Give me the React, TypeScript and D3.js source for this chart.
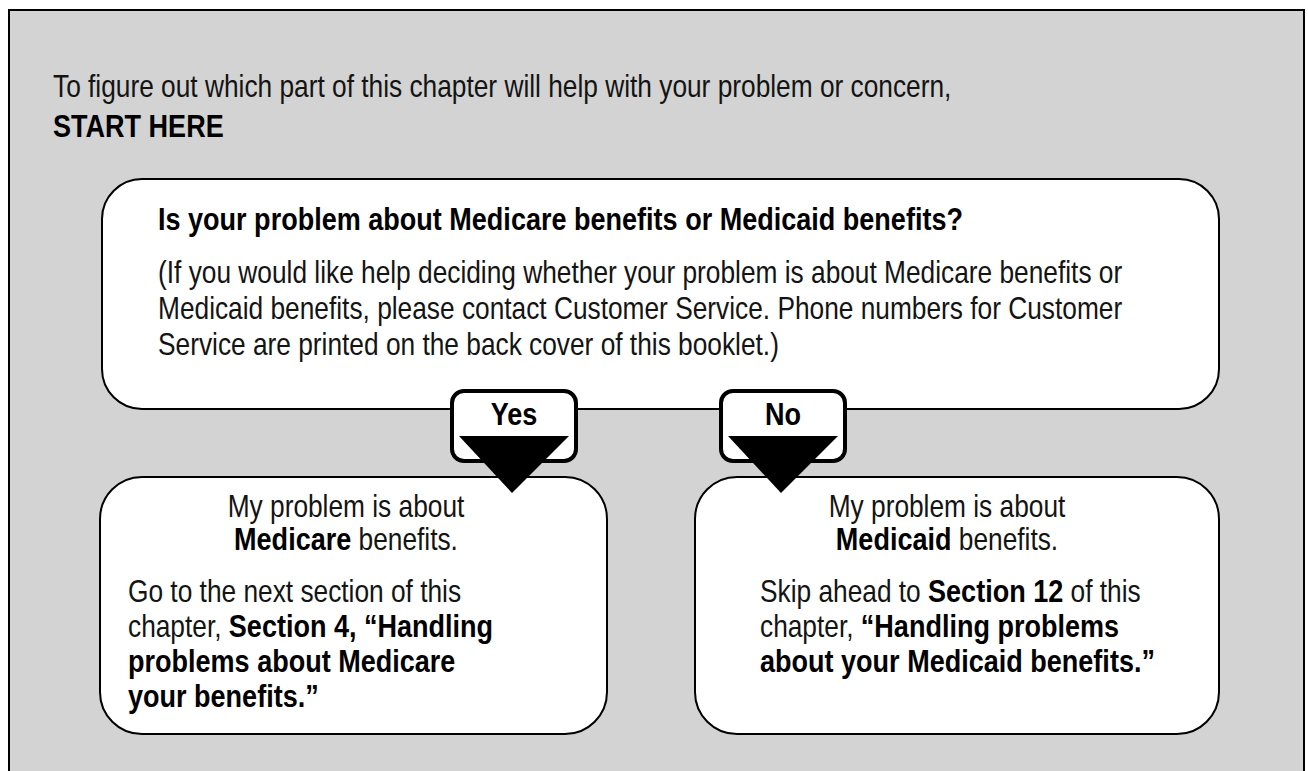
import React, { useEffect, useRef } from "react";
import * as d3 from "d3";

// text content of the flow chart
const introLines = [
  [{ t: "To figure out which part of this chapter will help with your problem or concern,", b: false }],
  [{ t: "START HERE", b: true }],
];
const question = "Is your problem about Medicare benefits or Medicaid benefits?";
const questionNote = [
  "(If you would like help deciding whether your problem is about Medicare benefits or",
  "Medicaid benefits, please contact Customer Service. Phone numbers for Customer",
  "Service are printed on the back cover of this booklet.)",
];
const answers = ["Yes", "No"];
const outcomeTitles = [
  [
    [{ t: "My problem is about", b: false }],
    [{ t: "Medicare", b: true }, { t: " benefits.", b: false }],
  ],
  [
    [{ t: "My problem is about", b: false }],
    [{ t: "Medicaid", b: true }, { t: " benefits.", b: false }],
  ],
];
const outcomeBodies = [
  [
    [{ t: "Go to the next section of this", b: false }],
    [{ t: "chapter, ", b: false }, { t: "Section 4, \u201cHandling", b: true }],
    [{ t: "problems about Medicare", b: true }],
    [{ t: "your benefits.\u201d", b: true }],
  ],
  [
    [{ t: "Skip ahead to ", b: false }, { t: "Section 12", b: true }, { t: " of this", b: false }],
    [{ t: "chapter, ", b: false }, { t: "\u201cHandling problems", b: true }],
    [{ t: "about your Medicaid benefits.\u201d", b: true }],
  ],
];

const FONT = "'Liberation Sans Narrow', 'Arial Narrow', 'Liberation Sans', sans-serif";
const FS = 31;
// horizontal squeeze to get close to the condensed face of the original
const SX_LIGHT = 0.848;
const SX_BOLD = 0.872;

const App = () => {
  const ref = useRef<SVGSVGElement>(null);

  useEffect(() => {
    const W = 1308;
    const H = 771;
    const svg = d3.select(ref.current).attr("width", W).attr("height", H);
    svg.selectAll("*").remove();

    const rounded = (x, y, w, h, r) => {
      const p = d3.path();
      p.moveTo(x + r, y);
      p.lineTo(x + w - r, y);
      p.arcTo(x + w, y, x + w, y + r, r);
      p.lineTo(x + w, y + h - r);
      p.arcTo(x + w, y + h, x + w - r, y + h, r);
      p.lineTo(x + r, y + h);
      p.arcTo(x, y + h, x, y + h - r, r);
      p.lineTo(x, y + r);
      p.arcTo(x, y, x + r, y, r);
      p.closePath();
      return p.toString();
    };

    // one line of mixed light / bold runs, each run squeezed on its own
    const line = (parent, segs, x, y, anchor = "start") => {
      const g = parent.append("g");
      let cur = 0;
      segs.forEach((s) => {
        const sx = s.b ? SX_BOLD : SX_LIGHT;
        const t = g
          .append("text")
          .attr("transform", `translate(${cur},0) scale(${sx},1)`)
          .attr("font-family", FONT)
          .attr("font-size", FS)
          .attr("font-weight", s.b ? "bold" : "normal")
          .attr("fill", s.b ? "#000" : "#141414")
          .attr("xml:space", "preserve")
          .style("white-space", "pre")
          .text(s.t);
        cur += (t.node() as SVGTextElement).getComputedTextLength() * sx;
      });
      const shift = anchor === "middle" ? cur / 2 : 0;
      g.attr("transform", `translate(${x - shift},${y})`);
      return g;
    };

    // outer panel
    svg.append("rect")
      .attr("x", 9).attr("y", 10).attr("width", 1295).attr("height", 800)
      .attr("fill", "#d3d3d3").attr("stroke", "#000").attr("stroke-width", 2);

    const intro = d3.scalePoint().domain(d3.range(introLines.length)).range([97, 137]);
    introLines.forEach((l, i) => line(svg, l, 53, intro(i)));

    // question box
    svg.append("path").attr("d", rounded(102, 179, 1117, 230, 40))
      .attr("fill", "#fff").attr("stroke", "#000").attr("stroke-width", 2);
    line(svg, [{ t: question, b: true }], 158, 230);
    const noteY = d3.scalePoint().domain(d3.range(questionNote.length)).range([283, 355]);
    questionNote.forEach((l, i) => line(svg, [{ t: l, b: false }], 158, noteY(i)));

    // outcome boxes
    const boxes = [
      { x: 100, w: 507, cx: 346, left: 128 },
      { x: 695, w: 524, cx: 947, left: 760 },
    ];
    const rowY = (k) => 602 + k * 35;
    boxes.forEach((b, i) => {
      svg.append("path").attr("d", rounded(b.x, 477, b.w, 257, 42))
        .attr("fill", "#fff").attr("stroke", "#000").attr("stroke-width", 2);
      outcomeTitles[i].forEach((l, k) => line(svg, l, b.cx, 517 + k * 33, "middle"));
      outcomeBodies[i].forEach((l, k) => line(svg, l, b.left, rowY(k)));
    });

    // yes / no tabs with arrows
    const tabX = d3.scaleOrdinal().domain(answers).range([514, 783]);
    answers.forEach((a) => {
      const cx = tabX(a);
      svg.append("path").attr("d", rounded(cx - 62, 391, 124, 70, 12))
        .attr("fill", "#fff").attr("stroke", "#000").attr("stroke-width", 4);
      line(svg, [{ t: a, b: true }], cx, 425, "middle");
      svg.append("path")
        .attr("d", `M${cx - 55},436L${cx + 55},436L${cx - 2},493Z`)
        .attr("fill", "#000");
    });
  }, []);

  return (
    <div>
      <svg ref={ref} style={{ position: "absolute", left: 0, top: 0 }}></svg>
    </div>
  );
};

export default App;
